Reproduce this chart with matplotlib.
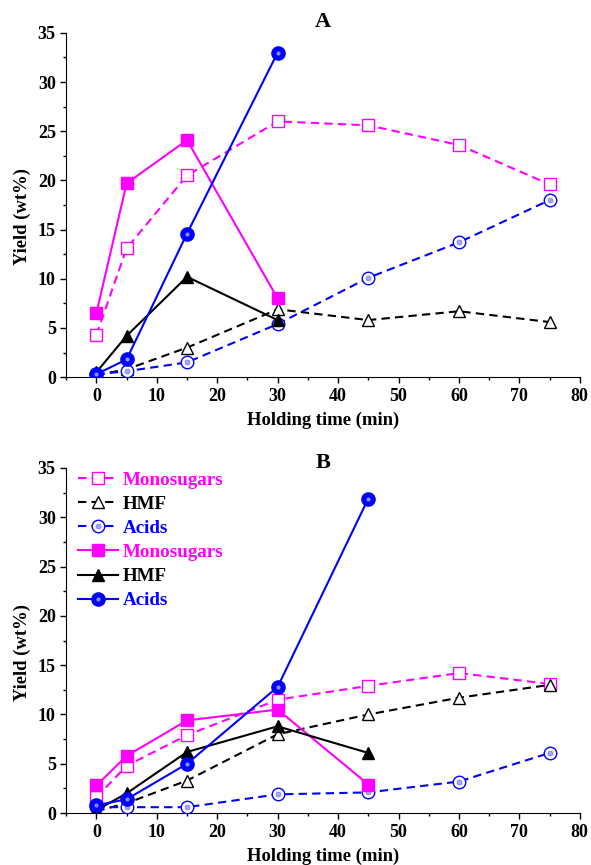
import numpy as np
import matplotlib
matplotlib.use('Agg')
import matplotlib.pyplot as plt
from matplotlib.ticker import MultipleLocator
from matplotlib.legend_handler import HandlerTuple

plt.rcParams['font.family'] = 'Liberation Serif'
plt.rcParams['font.weight'] = 'bold'

# holding time (min)
t_long = [0, 5, 15, 30, 45, 60, 75]
t_a_short = [0, 5, 15, 30]
t_b_short = [0, 5, 15, 30, 45]

# panel A
a_sugar_open = [4.3, 13.1, 20.5, 26.0, 25.6, 23.6, 19.6]
a_hmf_open = [0.2, 0.8, 3.0, 6.9, 5.8, 6.7, 5.6]
a_acid_open = [0.3, 0.6, 1.5, 5.4, 10.1, 13.7, 18.0]
a_sugar_fill = [6.5, 19.7, 24.1, 8.0]
a_hmf_fill = [0.5, 4.2, 10.2, 5.8]
a_acid_fill = [0.3, 1.8, 14.6, 33.0]

# panel B
b_sugar_open = [1.6, 4.8, 7.9, 11.5, 12.9, 14.2, 13.1]
b_hmf_open = [0.2, 1.0, 3.3, 8.0, 10.0, 11.7, 13.0]
b_acid_open = [0.6, 0.6, 0.6, 1.9, 2.1, 3.2, 6.1]
b_sugar_fill = [2.8, 5.8, 9.4, 10.5, 2.9]
b_hmf_fill = [0.3, 2.0, 6.2, 8.8, 6.1]
b_acid_fill = [0.8, 1.4, 5.0, 12.8, 31.9]

MAG = '#ff00ff'
BLUE = '#0000ff'
DASH = (4, 2.5)


def draw_panel(ax, t_short, so, ho, ao, sf, hf, af):
    handles = []
    l, = ax.plot(t_long, so, color=MAG, lw=1.5, dashes=DASH, marker='s', ms=8,
                 mfc='white', mec=MAG, mew=1.0, zorder=3)
    handles.append(l)
    l, = ax.plot(t_long, ho, color='black', lw=1.5, dashes=DASH, marker='^', ms=9,
                 mfc='white', mec='black', mew=1.0, zorder=3)
    handles.append(l)
    l1, = ax.plot(t_long, ao, color=BLUE, lw=1.5, dashes=DASH, marker='o', ms=9,
                  mfc='white', mec=BLUE, mew=1.0, zorder=3)
    l2, = ax.plot(t_long, ao, ls='none', marker='o', ms=3.5, mfc='#a8a8ff',
                  mec='#7070ff', mew=0.5, zorder=3)
    handles.append((l1, l2))
    l, = ax.plot(t_short, sf, color=MAG, lw=1.5, marker='s', ms=8, zorder=4)
    handles.append(l)
    l, = ax.plot(t_short, hf, color='black', lw=1.5, marker='^', ms=9, zorder=4)
    handles.append(l)
    l1, = ax.plot(t_short, af, color=BLUE, lw=1.5, marker='o', ms=9.5,
                  mec=BLUE, zorder=4)
    l2, = ax.plot(t_short, af, ls='none', marker='o', ms=3, mfc='#8c8cff',
                  mec='none', zorder=4)
    handles.append((l1, l2))

    ax.set_xlim(-5, 80)
    ax.set_ylim(0, 35)
    ax.xaxis.set_major_locator(MultipleLocator(10))
    ax.xaxis.set_minor_locator(MultipleLocator(5))
    ax.yaxis.set_major_locator(MultipleLocator(5))
    ax.yaxis.set_minor_locator(MultipleLocator(2.5))
    ax.spines['top'].set_visible(False)
    ax.spines['right'].set_visible(False)
    ax.tick_params(which='major', direction='out', length=4, width=1, labelsize=13)
    ax.tick_params(which='minor', direction='out', length=2.5, width=1)
    for lab in ax.get_xticklabels() + ax.get_yticklabels():
        lab.set_fontweight('bold')
    ax.set_xlabel('Holding time (min)', fontsize=13.4, fontweight='bold', labelpad=5)
    ax.set_ylabel('Yield (wt%)', fontsize=13.4, fontweight='bold')
    ax.yaxis.set_label_coords(-0.068, 0.466)
    return handles


fig = plt.figure(figsize=(5.91, 8.65), dpi=100)
ax1 = fig.add_axes([0.112, 0.564, 0.869, 0.398])
ax2 = fig.add_axes([0.112, 0.060, 0.869, 0.399])

draw_panel(ax1, t_a_short, a_sugar_open, a_hmf_open, a_acid_open,
           a_sugar_fill, a_hmf_fill, a_acid_fill)
hs = draw_panel(ax2, t_b_short, b_sugar_open, b_hmf_open, b_acid_open,
                b_sugar_fill, b_hmf_fill, b_acid_fill)

fig.text(323 / 591, 1 - 22 / 865, 'A', ha='center', va='center',
         fontsize=16, fontweight='bold')
fig.text(323 / 591, 1 - 463 / 865, 'B', ha='center', va='center',
         fontsize=16, fontweight='bold')

labels = ['Monosugars', 'HMF', 'Acids', 'Monosugars', 'HMF', 'Acids']
leg = ax2.legend(hs, labels, loc='upper left', bbox_to_anchor=(-0.01, 1.04),
                 frameon=False, prop={'size': 13.7, 'weight': 'bold'},
                 handlelength=2.1, handletextpad=0.25, labelspacing=0.36,
                 handler_map={tuple: HandlerTuple(ndivide=1)})
for txt, c in zip(leg.get_texts(), [MAG, 'black', BLUE, MAG, 'black', BLUE]):
    txt.set_color(c)

fig.savefig('out.png', dpi=100)
